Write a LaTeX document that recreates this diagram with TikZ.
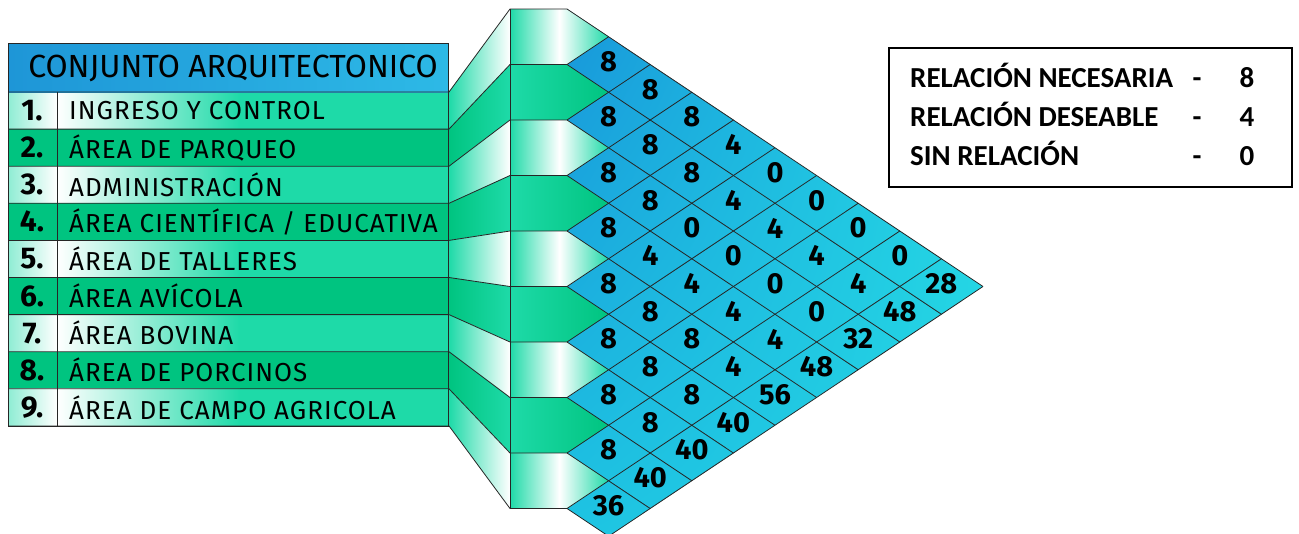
\documentclass[tikz,border=0pt]{standalone}
\usepackage{fontspec}
\setmainfont{Fira Sans}
\newfontfamily\rowfont{Fira Sans}[LetterSpace=4]
\newfontfamily\legendfont{Carlito}
\usetikzlibrary{calc,shadings}
\definecolor{matblue}{RGB}{24,150,218}
\definecolor{matmid}{RGB}{30,196,226}
\definecolor{matcyan}{RGB}{36,214,228}
\definecolor{rowgreen}{RGB}{0,196,128}
\definecolor{rowteal}{RGB}{30,218,168}
\definecolor{titleblue}{RGB}{30,150,215}
\definecolor{titlecyan}{RGB}{45,185,230}
\tikzset{
  titletext/.style={font=\fontsize{32}{32}\selectfont, inner sep=0pt},
  rowtext/.style={anchor=west, font=\rowfont\fontsize{26}{26}\selectfont, inner sep=0pt},
  rownum/.style={font=\fontsize{30}{30}\selectfont\bfseries, inner sep=0pt},
  cellnum/.style={font=\fontsize{29}{29}\selectfont\bfseries, inner sep=0pt},
  legtext/.style={font=\legendfont\bfseries\fontsize{29}{29}\selectfont, inner sep=0pt},
  gridline/.style={draw=black!85, line width=0.8pt},
}
\begin{document}
\begin{tikzpicture}[x=1pt,y=-1pt]
\useasboundingbox (0,0) rectangle (1299,533);
\clip (0,0) rectangle (1299,533);
\shade[upper left=matblue, lower left=matmid, upper right=matcyan, lower right=matcyan]
  (567,9) -- (983,286.5) -- (608.6,536.25) -- (567,508.5) -- cycle;
\foreach \k in {1,...,9}{
  \pgfmathsetmacro\ya{9+55.5*(\k-1)}
  \pgfmathsetmacro\yb{9+55.5*\k}
  \pgfmathsetmacro\ra{92+37.1*(\k-1)}
  \pgfmathsetmacro\rb{92+37.1*\k}
  \ifodd\k
    \shade[left color=rowteal, right color=rowteal, middle color=white] (510,\ya) -- (567,\ya) -- (608.6,{(\ya+\yb)/2}) -- (567,\yb) -- (510,\yb) -- cycle;
    \shade[left color=rowteal, right color=white] (449,\ra) -- (510,\ya) -- (510,\yb) -- (449,\rb) -- cycle;
    \shade[left color=rowteal!50!white, right color=white] (8,\ra) rectangle (57,\rb);
    \fill[rowteal] (239,\ra) rectangle (448,\rb);
    \shade[left color=white, right color=rowteal] (57,\ra) rectangle (240,\rb);
  \else
    \shade[left color=rowteal, right color=rowgreen] (510,\ya) -- (567,\ya) -- (608.6,{(\ya+\yb)/2}) -- (567,\yb) -- (510,\yb) -- cycle;
    \shade[left color=rowgreen, right color=rowteal] (449,\ra) -- (510,\ya) -- (510,\yb) -- (449,\rb) -- cycle;
    \fill[rowgreen] (8,\ra) rectangle (448,\rb);
  \fi
}
\shade[left color=titleblue, right color=titlecyan] (8,43) rectangle (448,92);
\draw[gridline] (8,43) rectangle (448,426);
\draw[gridline] (57,92) -- (57,426);
\foreach \k in {0,...,9}
  \draw[gridline] (8,{92+37.1*\k}) -- (449,{92+37.1*\k}) -- (510,{9+55.5*\k}) -- (567,{9+55.5*\k});
\draw[gridline] (510,9) -- (510,508.5);
\foreach \k in {0,...,9}
  \draw[gridline] (567,{9+55.5*\k}) -- ++({41.6*(10-\k)},{27.75*(10-\k)});
\foreach \k in {1,...,9}
  \draw[gridline] (567,{9+55.5*\k}) -- ++({41.6*\k},{-27.75*\k});
\draw[gridline] (608.6,536.25) -- (983,286.5);
\node[titletext] (title) at (233,68) {CONJUNTO ARQUITECTONICO};
\foreach \k/\name in {1/INGRESO Y CONTROL, 2/ÁREA DE PARQUEO, 3/ADMINISTRACIÓN,
    4/{ÁREA CIENTÍFICA / EDUCATIVA}, 5/ÁREA DE TALLERES, 6/ÁREA AVÍCOLA,
    7/ÁREA BOVINA, 8/ÁREA DE PORCINOS, 9/ÁREA DE CAMPO AGRICOLA}{
  \node[rownum] (num\k) at (32,{92+37.1*(\k-0.5)}) {\k.};
  \node[rowtext] (area\k) at (69,{92+37.1*(\k-0.5)}) {\name};
}
\foreach \i/\j/\v in {1/2/8, 1/3/8, 1/4/8, 1/5/4, 1/6/0, 1/7/0, 1/8/0, 1/9/0,
    2/3/8, 2/4/8, 2/5/8, 2/6/4, 2/7/4, 2/8/4, 2/9/4,
    3/4/8, 3/5/8, 3/6/0, 3/7/0, 3/8/0, 3/9/0,
    4/5/8, 4/6/4, 4/7/4, 4/8/4, 4/9/4,
    5/6/8, 5/7/8, 5/8/8, 5/9/4,
    6/7/8, 6/8/8, 6/9/8,
    7/8/8, 7/9/8,
    8/9/8}
  \node[cellnum] (c\i-\j) at ({567+41.6*(\j-\i)},{9+27.75*(\i+\j-1)-3}) {\v};
\foreach \i/\v in {1/28, 2/48, 3/32, 4/48, 5/56, 6/40, 7/40, 8/40, 9/36}
  \node[cellnum] (t\i) at ({567+41.6*(10-\i)},{9+27.75*(\i+9)-3}) {\v};
\node[draw=black, line width=1.5pt, minimum width=403pt, minimum height=139pt,
  anchor=north west, inner sep=0pt] (legend) at (888,47) {};
\foreach \n/\lab/\v in {1/RELACIÓN NECESARIA/8, 2/RELACIÓN DESEABLE/4, 3/SIN RELACIÓN/0}{
  \node[legtext, anchor=base west] (lab\n) at (910,{48+39*\n}) {\lab};
  \node[legtext, anchor=base] (dash\n) at (1197,{48+39*\n}) {-};
  \node[legtext, anchor=base] (val\n) at (1247,{48+39*\n}) {\v};
}
\end{tikzpicture}
\end{document}
